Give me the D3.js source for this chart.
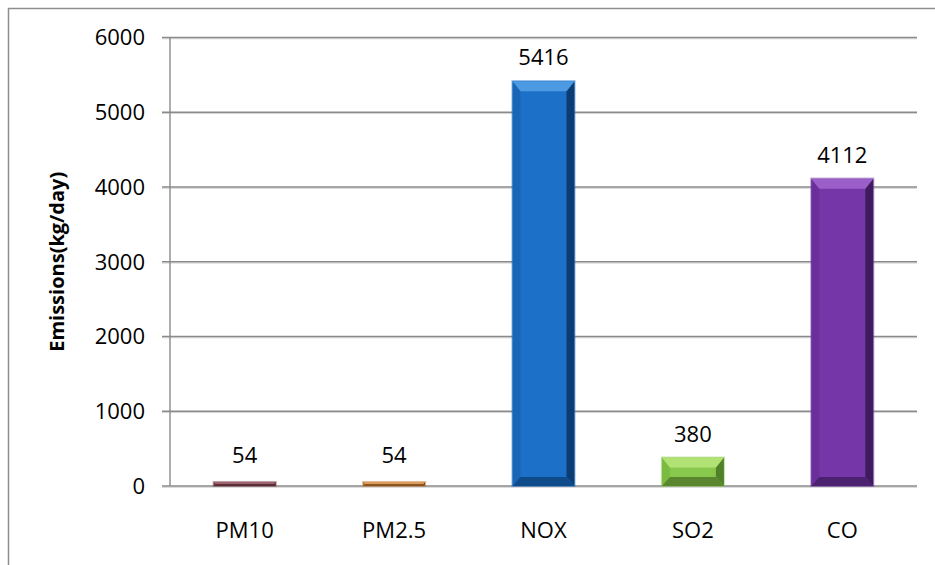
<!DOCTYPE html>
<html>
<head>
<meta charset="utf-8">
<script src="https://cdn.jsdelivr.net/npm/d3@7"></script>
<style>
  body { margin: 0; background: #fff; }
  #chart { width: 935px; height: 565px; }
  text { font-family: "Open Sans", sans-serif; fill: #000; }
</style>
</head>
<body>
<div id="chart"></div>
<script>

// chart data
const categories = ["PM10", "PM2.5", "NOX", "SO2", "CO"];
const emissions = [54, 54, 5416, 380, 4112];
const yTicks = [0, 1000, 2000, 3000, 4000, 5000, 6000];
const yLabel = "Emissions(kg/day)";

// face / top / left / right / bottom shades for each bar
const barColors = [
    { face: "#7e4652", top: "#a06470", left: "#743f4a", right: "#4e2830", bottom: "#5a2e37" },
    { face: "#c47c38", top: "#dc9c5c", left: "#b87030", right: "#7c4a1c", bottom: "#8a5522" },
    { face: "#1c70c8", top: "#4b9ae2", left: "#1965b6", right: "#0c3d72", bottom: "#0f4b8a" },
    { face: "#88c84c", top: "#b2e274", left: "#7cba42", right: "#50802a", bottom: "#5a862f" },
    { face: "#7536a8", top: "#9b5fca", left: "#6a2f9a", right: "#3f1b5e", bottom: "#4b2270" }
];

const width = 935;
const height = 565;

const svg = d3.select("#chart")
    .append("svg")
    .attr("width", width)
    .attr("height", height);

// outer chart border (only top and left edges show in the frame)
svg.append("rect")
    .attr("x", 8.5)
    .attr("y", 8.5)
    .attr("width", 1000)
    .attr("height", 1000)
    .attr("fill", "none")
    .attr("stroke", "#8e8e8e")
    .attr("stroke-width", 1.5);

const margin = { top: 37.5, left: 170, right: 18, bottom: 79 };

const xScale = d3.scaleBand()
    .domain(categories)
    .range([margin.left, width - margin.right])
    .paddingInner(0.585)
    .paddingOuter(0.2925);

const yScale = d3.scaleLinear()
    .domain([0, 6000])
    .range([height - margin.bottom, margin.top]);

// gridlines with a soft shadow
const grid = svg.append("g");
yTicks.forEach(function(t) {
    const y = yScale(t);
    grid.append("line")
        .attr("x1", margin.left - 8).attr("x2", width - margin.right)
        .attr("y1", y + 1.3).attr("y2", y + 1.3)
        .attr("stroke", "#d4d4d4").attr("stroke-width", 1);
    grid.append("line")
        .attr("x1", margin.left - 8).attr("x2", width - margin.right)
        .attr("y1", y).attr("y2", y)
        .attr("stroke", "#8a8a8a").attr("stroke-width", 1.4);
});

// y axis line
svg.append("line")
    .attr("x1", margin.left).attr("x2", margin.left)
    .attr("y1", yScale(6000)).attr("y2", yScale(0))
    .attr("stroke", "#8a8a8a").attr("stroke-width", 1.4);

// y tick labels
svg.selectAll(".ytick")
    .data(yTicks)
    .enter()
    .append("text")
        .attr("class", "ytick")
        .attr("x", 145)
        .attr("y", function(d) { return yScale(d); })
        .attr("dy", "0.36em")
        .attr("text-anchor", "end")
        .style("font-size", "22px")
        .text(function(d) { return d; });

// category labels
svg.selectAll(".xtick")
    .data(categories)
    .enter()
    .append("text")
        .attr("class", "xtick")
        .attr("x", function(d) { return xScale(d) + xScale.bandwidth() / 2; })
        .attr("y", 538)
        .attr("text-anchor", "middle")
        .style("font-size", "22px")
        .text(function(d) { return d; });

// bevelled bars
const bars = svg.selectAll(".bar")
    .data(emissions)
    .enter()
    .append("g")
        .attr("class", "bar");

bars.each(function(d, i) {
    const g = d3.select(this);
    const x0 = xScale(categories[i]);
    const x1 = x0 + xScale.bandwidth();
    const y0 = yScale(d);
    const y1 = yScale(0);
    const h = y1 - y0;
    const c = barColors[i];
    const bt = Math.min(10, h / 2);  // top bevel
    const bb = Math.min(9, h / 2);   // bottom bevel
    const bs = Math.min(8, h / 2);   // side bevel

    const poly = function(pts, fill) {
        g.append("polygon")
            .attr("points", pts.map(function(p) { return p.join(","); }).join(" "))
            .attr("fill", fill);
    };

    g.append("rect")
        .attr("x", x0).attr("y", y0)
        .attr("width", x1 - x0).attr("height", h)
        .attr("fill", c.face);
    poly([[x0, y0], [x0 + bs, y0 + bt], [x0 + bs, y1 - bb], [x0, y1]], c.left);
    poly([[x1, y0], [x1 - bs, y0 + bt], [x1 - bs, y1 - bb], [x1, y1]], c.right);
    poly([[x0, y0], [x1, y0], [x1 - bs, y0 + bt], [x0 + bs, y0 + bt]], c.top);
    poly([[x0, y1], [x1, y1], [x1 - bs, y1 - bb], [x0 + bs, y1 - bb]], c.bottom);
    g.append("rect")
        .attr("x", x0 - 0.5).attr("y", y0 - 0.5)
        .attr("width", x1 - x0 + 1).attr("height", h + 1)
        .attr("fill", "none")
        .attr("stroke", c.face)
        .attr("stroke-opacity", 0.5)
        .attr("stroke-width", 1);
});

// value labels
svg.selectAll(".value")
    .data(emissions)
    .enter()
    .append("text")
        .attr("class", "value")
        .attr("x", function(d, i) { return xScale(categories[i]) + xScale.bandwidth() / 2; })
        .attr("y", function(d) { return Math.min(yScale(d), yScale(0) - 7) - 16; })
        .attr("text-anchor", "middle")
        .style("font-size", "22px")
        .text(function(d) { return d; });

// y axis title
svg.append("text")
    .attr("transform", `translate(64,${(yScale(0) + yScale(6000)) / 2}) rotate(-90)`)
    .attr("text-anchor", "middle")
    .style("font-size", "20px")
    .style("font-weight", "bold")
    .text(yLabel);

</script>
</body>
</html>
